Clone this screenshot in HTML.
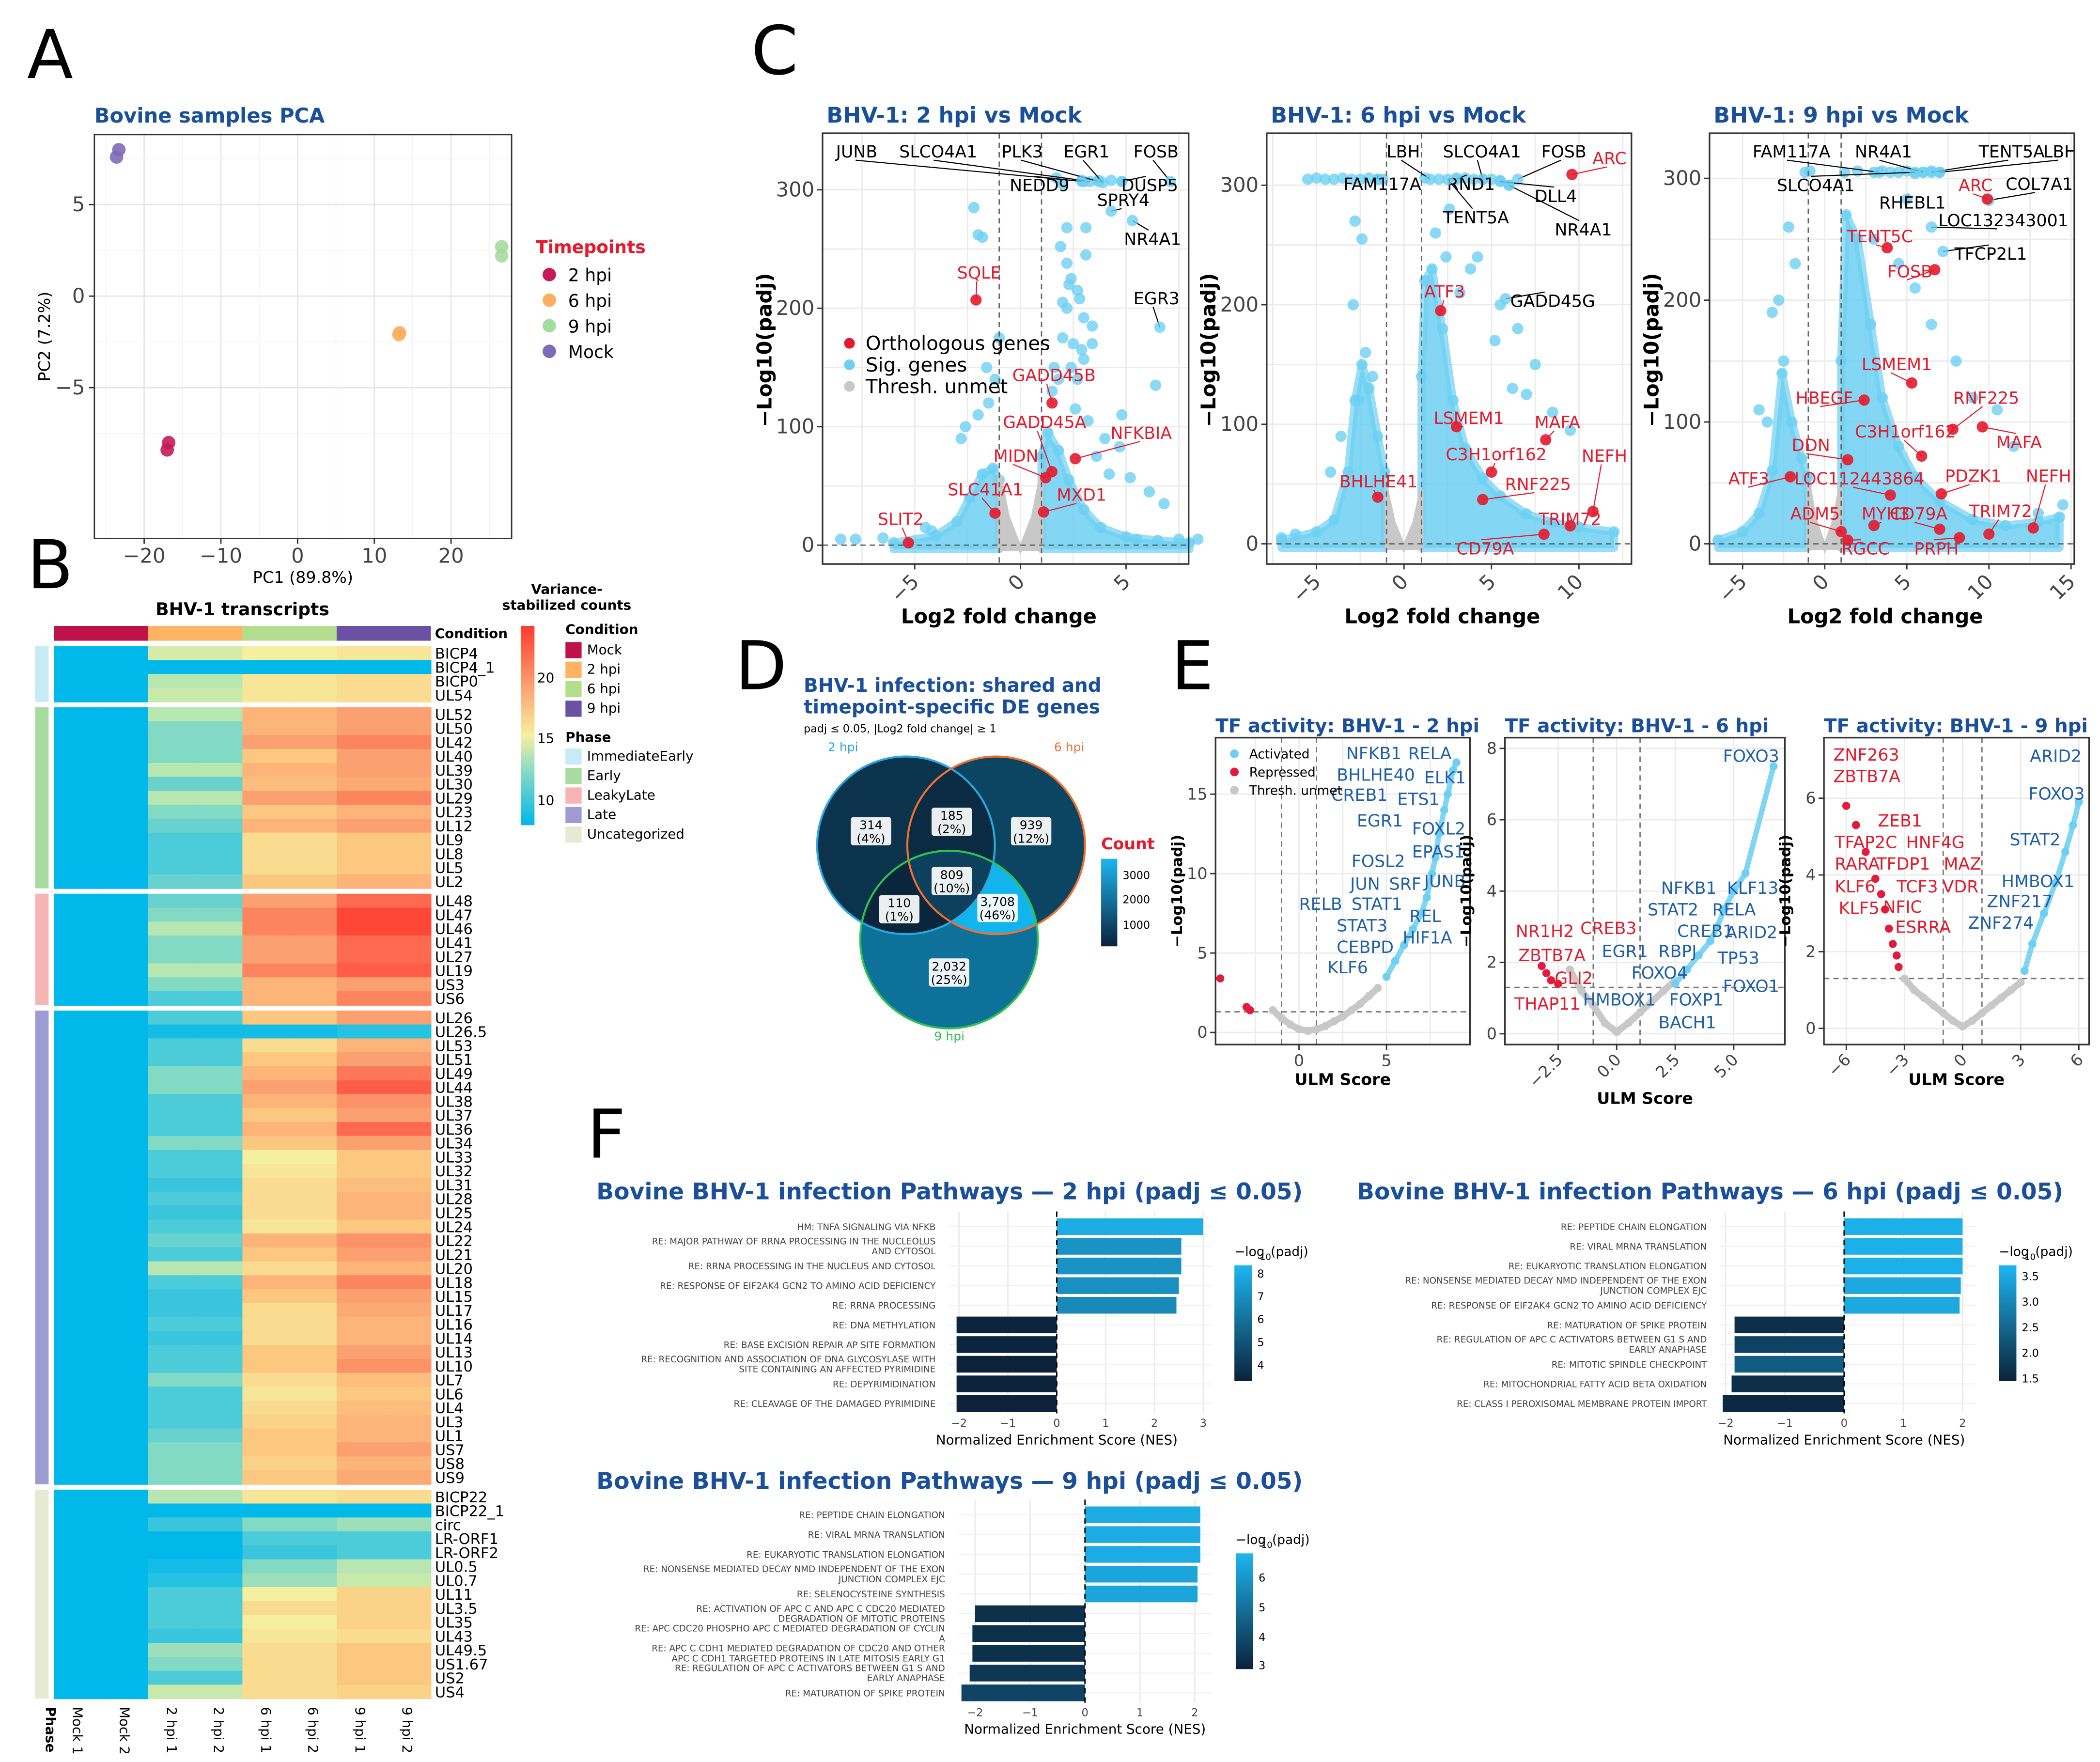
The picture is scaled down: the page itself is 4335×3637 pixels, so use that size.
<!DOCTYPE html>
<html><head><meta charset="utf-8">
<style>
html,body{margin:0;padding:0;background:#fff;}
svg{display:block;font-family:"DejaVu Sans","Liberation Sans",sans-serif;}
</style></head>
<body>
<svg id="fig" xmlns="http://www.w3.org/2000/svg" width="4335" height="3637" viewBox="0 0 1560 1309">
<defs>
<linearGradient id="hmGrad" x1="0" y1="1" x2="0" y2="0">
<stop offset="0" stop-color="#00b8ea"/><stop offset="0.25" stop-color="#7dd7c8"/><stop offset="0.45" stop-color="#f5f0a0"/><stop offset="0.7" stop-color="#fba070"/><stop offset="1" stop-color="#ff3b30"/>
</linearGradient>
<linearGradient id="blueGrad" x1="0" y1="1" x2="0" y2="0">
<stop offset="0" stop-color="#0b223a"/><stop offset="1" stop-color="#1db6f0"/>
</linearGradient>
<clipPath id="cA"><circle cx="673" cy="628" r="66"/></clipPath>
<clipPath id="cB"><circle cx="740" cy="628" r="66"/></clipPath>
<clipPath id="cC"><circle cx="705" cy="698" r="66"/></clipPath>
</defs>
</svg>
<script>
// ---------------- DATA ----------------
const pcaGroups=['2 hpi','2 hpi','6 hpi','6 hpi','9 hpi','9 hpi','Mock','Mock'];
const pcaX=[-17.0,-16.8,13.2,13.3,26.6,26.6,-23.6,-23.3];
const pcaY=[-8.4,-8.0,-2.1,-2.0,2.2,2.7,7.6,8.0];

const hmRows=[
['BICP4',14,15,15.5],['BICP4_1',9,9,9],['BICP0',13,15.5,16],['UL54',13.5,15.5,16],
['UL52',13,18,19],['UL50',12,18,19],['UL42',12,19,20],['UL40',12,17,19],['UL39',13,18,19],['UL30',11.5,17.5,18.5],['UL29',13,19,20],['UL23',12,17,18],['UL12',11.5,18,19],['UL9',11,16,17],['UL8',11,16,17],['UL5',11,16,17],['UL2',11.5,17,18],
['UL48',11.5,19,21],['UL47',12,20,22.5],['UL46',13,20,22.5],['UL41',12,19,21],['UL27',12,19,21],['UL19',13,20,21.5],['US3',12,18,19],['US6',11,18,20],
['UL26',11,17,19],['UL26.5',9.5,9.5,10],['UL53',11,16,18],['UL51',11,17,19],['UL49',12,18,20.5],['UL44',12,19,21.5],['UL38',11,18,19.5],['UL37',11,17,19],['UL36',11,18,21],['UL34',12,17,19],['UL33',11,15,17],['UL32',11,15.5,17],['UL31',10.5,16,17.5],['UL28',11,16,18],['UL25',10.5,16,18],['UL24',11,15.5,17],['UL22',11.5,18,19.5],['UL21',11,17,19],['UL20',13,16,18],['UL18',11,18,20],['UL15',10.5,17,19],['UL17',10.5,16,18.5],['UL16',11,16,18],['UL14',10.5,16,18],['UL13',11,17,19],['UL10',11,17,19.5],['UL7',12,16,17.5],['UL6',11,15.5,17],['UL4',11,16,17.5],['UL3',11,16.5,18],['UL1',11.5,17,18],['US7',12,17,19],['US8',12,16.5,18],['US9',12,17,18.5],
['BICP22',13,15.5,16],['BICP22_1',9,9,9],['circ',10.5,12,12.5],['LR-ORF1',9,11,11],['LR-ORF2',9,10.5,11],['UL0.5',9.5,12,13],['UL0.7',10,12.5,13.5],['UL11',11,15,16.5],['UL3.5',11,16,16.5],['UL35',11,15,16.5],['UL43',10.5,15.5,16],['UL49.5',12.5,16,17],['US1.67',12,16,17],['US2',11,16,17],['US4',13.5,16,16.5]];
const hmMock=8.5;
const hmPhases=['ImmediateEarly','Early','LeakyLate','Late','Uncategorized'];
const hmPhaseCounts=[4,13,8,34,15];

// volcano data
const v1CloudLX=[-6,-4,-3,-2.4,-1.8,-1.3,-1.0];
const v1CloudLY=[2,8,20,40,60,65,55];
const v1CloudRX=[1.0,1.3,1.8,2.3,3,3.8,5,6.5,8];
const v1CloudRY=[75,95,80,55,30,15,7,4,2];
const v1SigX=[-2.2,-2.0,-1.8,2.2,3.1,1.9,2.2,3.1,2.4,2.3,2.7,2.0,2.8,2.2,3.0,3.4,2.5,2.9,3.4,2.0,2.4,2.7,3.0,1.6,1.8,-1.0,-1.6,-1.2,6.4,4.8,4.7,5.2,6.1,6.8,-8.5,-7.8,-6.5,-4.5,-4.2,5.5,7.5,8.4,1.7,2.0,2.9,3.7,4.3,4.8,-2.6,-2.8,3.6,4.2,-2.0,-1.5,2.6,3.2,1.5,4.0];
const v1SigY=[285,262,260,268,268,252,238,245,225,220,215,205,208,200,192,185,170,165,170,175,150,140,157,150,140,175,150,140,135,110,83,57,45,35,5,5,6,15,12,5,5,5,310,305,308,308,308,307,100,90,75,60,110,120,115,105,130,90];
const v2CloudLX=[-7,-5,-4,-3.2,-2.8,-2.4,-2,-1.5,-1.1];
const v2CloudLY=[3,10,20,60,120,150,130,90,60];
const v2CloudRX=[1,1.2,1.6,2.2,2.8,3.5,4.5,5.5,7,8.5,10,12];
const v2CloudRY=[140,220,230,180,120,80,55,40,25,18,14,10];
const v2SigX=[-5.5,-5,-4.5,-4,-3.5,-3,-2.5,-2,-1.5,-1.2,1.2,2,3,3.5,4,4.5,5,5.5,6,4.2,5.5,6.5,7.5,3.8,5.2,6.2,-2.2,-1.8,-2.6,8.5,9.5,7,-7,-6.2,-2.8,-2.4,-2.9,1.8,2.4,2.6,3.2,-4.2,-3.6];
const v2SigY=[305,306,305,305,306,305,305,306,305,305,306,305,306,306,305,305,305,304,300,240,200,180,150,230,170,130,160,140,120,110,95,125,5,8,270,255,200,260,240,280,210,60,90];
const v3CloudLX=[-6.5,-5,-4,-3.2,-2.6,-2,-1.4,-1.05];
const v3CloudLY=[3,10,25,60,140,100,70,55];
const v3CloudRX=[1,1.3,2,2.8,3.5,4.5,5.5,7,9,11,13,14.3];
const v3CloudRY=[150,270,250,180,120,80,55,35,20,15,18,22];
const v3SigX=[-1.2,-0.9,1.2,2,3,3.5,4,4.5,5,5.5,6,6.5,7,3,4.5,5.5,6.5,8,9,10.5,11.5,-2.5,-3.5,-1.8,14.5,13,-2.8,-3.2,-2.2,-4];
const v3SigY=[305,306,305,306,305,306,305,305,306,304,305,306,305,250,230,210,180,150,120,110,80,150,100,230,32,25,200,190,260,110];

// TF activity data
const e1GrayX=[-1.5,-1,-0.5,0,0.5,1,1.5,2,2.5,3,3.5,4,4.5];
const e1GrayY=[1.4,0.9,0.5,0.2,0.1,0.2,0.4,0.7,1.0,1.4,1.8,2.3,2.8];
const e1BlueX=[5,5.5,6,6.5,7,7.3,7.6,7.8,8,8.3,8.5,8.8,9.0];
const e1BlueY=[3.5,4.5,5.5,6.5,7.5,8.5,10,11,12.5,14,15,16.5,17];
const e1RedX=[-4.5,-3.0,-2.8];
const e1RedY=[3.4,1.6,1.4];
const e2GrayX=[-2,-1.5,-1,-0.5,0,0.5,1,1.5,2,2.5];
const e2GrayY=[1.8,1.2,0.8,0.3,0.05,0.3,0.6,0.9,1.2,1.5];
const e2BlueX=[2.5,3,3.5,4,4.3,4.6,5,5.5,6.7];
const e2BlueY=[1.4,1.8,2.2,2.6,3,3.5,4,4.5,7.5];
const e2RedX=[-3.2,-3.0,-2.8,-2.5];
const e2RedY=[1.9,1.7,1.5,1.4];
const e3GrayX=[-3,-2.5,-2,-1.5,-1,-0.5,0,0.5,1,1.5,2,2.5,3];
const e3GrayY=[1.3,1.0,0.8,0.6,0.4,0.2,0.05,0.2,0.4,0.6,0.8,1.0,1.2];
const e3BlueX=[3.2,3.6,4.2,4.8,5.3,5.7,6.0];
const e3BlueY=[1.5,2.2,3.0,3.8,4.6,5.3,5.9];
const e3RedX=[-6,-5.5,-5,-4.5,-4.2,-4,-3.8,-3.6,-3.4,-3.3];
const e3RedY=[5.8,5.3,4.6,3.9,3.5,3.1,2.6,2.2,1.9,1.6];

// Venn
const vennLabels=['314\n(4%)','185\n(2%)','939\n(12%)','809\n(10%)','110\n(1%)','3,708\n(46%)','2,032\n(25%)'];
const vennCounts=[314,185,939,809,110,3708,2032];

// GSEA bars
const f1Terms=['HM: TNFA SIGNALING VIA NFKB','RE: MAJOR PATHWAY OF RRNA PROCESSING IN THE NUCLEOLUS|AND CYTOSOL','RE: RRNA PROCESSING IN THE NUCLEUS AND CYTOSOL','RE: RESPONSE OF EIF2AK4 GCN2 TO AMINO ACID DEFICIENCY','RE: RRNA PROCESSING','RE: DNA METHYLATION','RE: BASE EXCISION REPAIR AP SITE FORMATION','RE: RECOGNITION AND ASSOCIATION OF DNA GLYCOSYLASE WITH|SITE CONTAINING AN AFFECTED PYRIMIDINE','RE: DEPYRIMIDINATION','RE: CLEAVAGE OF THE DAMAGED PYRIMIDINE'];
const f1NES=[3.0,2.55,2.55,2.5,2.45,-2.05,-2.05,-2.05,-2.05,-2.05];
const f1Padj=[8.2,7.3,7.3,7.2,7.0,3.6,3.6,3.5,3.5,3.5];
const f2Terms=['RE: PEPTIDE CHAIN ELONGATION','RE: VIRAL MRNA TRANSLATION','RE: EUKARYOTIC TRANSLATION ELONGATION','RE: NONSENSE MEDIATED DECAY NMD INDEPENDENT OF THE EXON|JUNCTION COMPLEX EJC','RE: RESPONSE OF EIF2AK4 GCN2 TO AMINO ACID DEFICIENCY','RE: MATURATION OF SPIKE PROTEIN','RE: REGULATION OF APC C ACTIVATORS BETWEEN G1 S AND|EARLY ANAPHASE','RE: MITOTIC SPINDLE CHECKPOINT','RE: MITOCHONDRIAL FATTY ACID BETA OXIDATION','RE: CLASS I PEROXISOMAL MEMBRANE PROTEIN IMPORT'];
const f2NES=[2.0,2.0,2.0,1.97,1.95,-1.85,-1.85,-1.85,-1.9,-2.05];
const f2Padj=[3.6,3.6,3.6,3.5,3.5,1.6,1.9,2.3,1.6,1.5];
const f3Terms=['RE: PEPTIDE CHAIN ELONGATION','RE: VIRAL MRNA TRANSLATION','RE: EUKARYOTIC TRANSLATION ELONGATION','RE: NONSENSE MEDIATED DECAY NMD INDEPENDENT OF THE EXON|JUNCTION COMPLEX EJC','RE: SELENOCYSTEINE SYNTHESIS','RE: ACTIVATION OF APC C AND APC C CDC20 MEDIATED|DEGRADATION OF MITOTIC PROTEINS','RE: APC CDC20 PHOSPHO APC C MEDIATED DEGRADATION OF CYCLIN|A','RE: APC C CDH1 MEDIATED DEGRADATION OF CDC20 AND OTHER|APC C CDH1 TARGETED PROTEINS IN LATE MITOSIS EARLY G1','RE: REGULATION OF APC C ACTIVATORS BETWEEN G1 S AND|EARLY ANAPHASE','RE: MATURATION OF SPIKE PROTEIN'];
const f3NES=[2.1,2.1,2.1,2.05,2.05,-2.0,-2.05,-2.05,-2.1,-2.25];
const f3Padj=[6.6,6.6,6.6,6.4,6.4,3.0,3.0,3.0,3.2,3.6];

// ---------------- HELPERS ----------------
const NS='http://www.w3.org/2000/svg';
const svg=document.getElementById('fig');
function mk(tag,attrs,name,parent){
  const el=document.createElementNS(NS,tag);
  for(const k in attrs) el.setAttribute(k,attrs[k]);
  
  
  (parent||svg).appendChild(el);
  return el;
}
function tx(x,y,s,size,name,opt){
  opt=opt||{};
  const a={x:x,y:y,'font-size':size,fill:opt.fill||'#000'};
  if(opt.bold) a['font-weight']='bold';
  if(opt.anchor) a['text-anchor']=opt.anchor;
  if(opt.rot!==undefined) a.transform='rotate('+opt.rot+' '+x+' '+y+')';
  const el=mk('text',a,name);
  el.textContent=s;
  return el;
}
function line(x1,y1,x2,y2,st,w,name,dash){
  const a={x1:x1,y1:y1,x2:x2,y2:y2,stroke:st,'stroke-width':w};
  if(dash) a['stroke-dasharray']=dash;
  return mk('line',a,name);
}
function hex(c){return [parseInt(c.slice(1,3),16),parseInt(c.slice(3,5),16),parseInt(c.slice(5,7),16)];}
function lerpC(a,b,t){const A=hex(a),B=hex(b);return 'rgb('+A.map((v,i)=>Math.round(v+(B[i]-v)*t)).join(',')+')';}
function ramp(stops,v){
  if(v<=stops[0][0]) return stops[0][1];
  for(let i=1;i<stops.length;i++){ if(v<=stops[i][0]){const t=(v-stops[i-1][0])/(stops[i][0]-stops[i-1][0]);return lerpC(stops[i-1][1],stops[i][1],t);} }
  return stops[stops.length-1][1];
}
const TITLE='#1a4f9c', RED='#e41a2c', SIGB='#6dd0f2', TFB='#1f5fa8';

// ---------------- PANEL LETTERS ----------------
[['A',20,58],['B',20,437],['C',558,55],['D',546,512],['E',870,512],['F',436,860]].forEach(p=>{
  tx(p[1],p[2],p[0],50,'panel-letter-'+p[0].toLowerCase());
});

// ---------------- PANEL A: PCA ----------------
(function(){
  const sx=v=>221+v*5.7, sy=v=>220-v*13.6;
  tx(70,91,'Bovine samples PCA',15,'pca-title',{bold:true,fill:TITLE});
  mk('rect',{x:70,y:100,width:310,height:300,fill:'#fff'},'pca-plot-area');
  [-25,-15,-5,5,15,25].forEach(v=>line(sx(v),100,sx(v),400,'#f3f3f3',0.6,'pca-minor-grid'));
  [-20,-10,0,10,20].forEach(v=>line(sx(v),100,sx(v),400,'#e6e6e6',1,'pca-grid-x'));
  [-7.5,-2.5,2.5,7.5].forEach(v=>line(70,sy(v),380,sy(v),'#f3f3f3',0.6,'pca-minor-grid'));
  [-5,0,5].forEach(v=>line(70,sy(v),380,sy(v),'#e6e6e6',1,'pca-grid-y'));
  mk('rect',{x:70,y:100,width:310,height:300,fill:'none',stroke:'#333','stroke-width':1},'pca-border');
  [-20,-10,0,10,20].forEach(v=>{line(sx(v),400,sx(v),404,'#333',1,'pca-x-tick');tx(sx(v),418,(v<0?'\u2212':'')+Math.abs(v),15,'pca-x-tick-label',{anchor:'middle',fill:'#444'});});
  [-5,0,5].forEach(v=>{line(66,sy(v),70,sy(v),'#333',1,'pca-y-tick');tx(63,sy(v)+5,(v<0?'\u2212':'')+Math.abs(v),15,'pca-y-tick-label',{anchor:'end',fill:'#444'});});
  tx(225,433,'PC1 (89.8%)',12,'pca-x-axis-title',{anchor:'middle'});
  tx(37,250,'PC2 (7.2%)',12,'pca-y-axis-title',{anchor:'middle',rot:-90});
  const col={'2 hpi':'#c51b59','6 hpi':'#fdae61','9 hpi':'#a6dba0','Mock':'#7e6bb8'};
  pcaX.forEach((x,i)=>mk('circle',{cx:sx(x),cy:sy(pcaY[i]),r:5,fill:col[pcaGroups[i]],'fill-opacity':0.9},'pca-point'));
  tx(398,188,'Timepoints',13,'pca-legend-title',{bold:true,fill:RED});
  ['2 hpi','6 hpi','9 hpi','Mock'].forEach((g,i)=>{
    mk('circle',{cx:408,cy:204+i*19,r:5,fill:col[g]},'pca-legend-key');
    tx(422,209+i*19,g,13,'pca-legend-label');
  });
})();

// ---------------- PANEL B: HEATMAP ----------------
(function(){
  const hmStops=[[9,'#00b8ea'],[11,'#4ccbd8'],[13,'#b8e6b0'],[15,'#f5f0a0'],[17,'#fcc880'],[19,'#fba070'],[21,'#fd6a50'],[23,'#ff3b30']];
  tx(180,457,'BHV-1 transcripts',13,'heatmap-title',{bold:true,anchor:'middle'});
  const condCol=['#c0124a','#fdb462','#b3de8e','#6a51a3'];
  const x0=40,cw=35,rh=10.35,gap=4;
  condCol.forEach((c,i)=>mk('rect',{x:x0+i*70,y:465,width:70,height:11,fill:c},'condition-bar'));
  tx(323,474,'Condition',10,'condition-bar-label',{bold:true});
  const phaseCol=['#c6ebf5','#a8dba0','#f8b4b4','#9d9bd2','#e6ead2'];
  let y=480,ri=0;
  hmPhaseCounts.forEach((n,pi)=>{
    const ys=y;
    for(let k=0;k<n;k++){
      const r=hmRows[ri];
      const vals=[hmMock,hmMock,r[1],r[1],r[2],r[2],r[3],r[3]];
      vals.forEach((v,ci)=>mk('rect',{x:x0+ci*cw,y:y,width:cw+0.4,height:rh+0.4,fill:ramp(hmStops,v)},'heatmap-cell'));
      tx(323,y+rh-1,r[0],11,'heatmap-row-label');
      y+=rh; ri++;
    }
    mk('rect',{x:26,y:ys,width:10,height:y-ys,fill:phaseCol[pi]},'phase-bar-'+hmPhases[pi].toLowerCase());
    y+=gap;
  });
  tx(34,1268,'Phase',10,'phase-axis-label',{bold:true,rot:90});
  ['Mock 1','Mock 2','2 hpi 1','2 hpi 2','6 hpi 1','6 hpi 2','9 hpi 1','9 hpi 2'].forEach((s,i)=>tx(x0+i*cw+14,1268,s,10,'heatmap-column-label',{rot:90}));
  tx(421,441,'Variance-',10,'colorbar-title',{bold:true,anchor:'middle'});
  tx(421,453,'stabilized counts',10,'colorbar-title',{bold:true,anchor:'middle'});
  mk('rect',{x:387,y:465,width:10,height:148,fill:'url(#hmGrad)'},'heatmap-colorbar');
  [[20,503],[15,548],[10,594]].forEach(t=>tx(399,t[1]+4,String(t[0]),10,'colorbar-tick-label'));
  tx(420,471,'Condition',10,'condition-legend-title',{bold:true});
  ['Mock','2 hpi','6 hpi','9 hpi'].forEach((s,i)=>{mk('rect',{x:420,y:477+i*14.5,width:12,height:12,fill:condCol[i]},'condition-legend-key');tx(436,486+i*14.5,s,10,'condition-legend-label');});
  tx(420,551,'Phase',10,'phase-legend-title',{bold:true});
  hmPhases.forEach((s,i)=>{mk('rect',{x:420,y:556+i*14.5,width:12,height:12,fill:phaseCol[i]},'phase-legend-key');tx(436,565+i*14.5,s,10,'phase-legend-label');});
})();

// ---------------- PANEL C: VOLCANOES ----------------
function volcano(c){
  const sx=v=>c.x0+v*c.ux, sy=v=>c.y0-v*c.uy;
  tx(c.left+3,91,c.title,16,'volcano-title',{bold:true,fill:TITLE});
  c.xgrid.forEach(v=>line(sx(v),c.top,sx(v),c.bottom,'#ebebeb',1,'volcano-grid-x'));
  c.ygrid.forEach(v=>line(c.left,sy(v),c.right,sy(v),'#ebebeb',1,'volcano-grid-y'));
  function cloud(X,Y){
    let pts=[[sx(X[0]),sy(0)+3]];
    X.forEach((x,i)=>pts.push([sx(x),sy(Y[i])]));
    pts.push([sx(X[X.length-1]),sy(0)+3]);
    mk('polygon',{points:pts.map(p=>p.join(',')).join(' '),fill:SIGB,'fill-opacity':0.85,stroke:SIGB,'stroke-opacity':0.7,'stroke-width':6,'stroke-linejoin':'round'},'sig-genes-cloud');
    X.forEach((x,i)=>mk('circle',{cx:sx(x),cy:sy(Y[i]),r:4.2,fill:SIGB,'fill-opacity':0.8},'sig-gene-point'));
  }
  cloud(c.lx,c.ly); cloud(c.rx,c.ry);
  mk('polygon',{points:[[sx(-1),sy(c.gray)],[sx(-0.6),sy(c.gray*0.4)],[sx(0),sy(0)+3],[sx(0.6),sy(c.gray*0.4)],[sx(1),sy(c.gray)],[sx(1),sy(0)+3],[sx(-1),sy(0)+3]].map(p=>p.join(',')).join(' '),fill:'#c8c8c8',stroke:'#c8c8c8','stroke-width':3},'thresh-unmet-cloud');
  c.sx.forEach((x,i)=>mk('circle',{cx:sx(x),cy:sy(c.sy[i]),r:4.2,fill:SIGB,'fill-opacity':0.8},'sig-gene-point'));
  line(sx(-1),c.top,sx(-1),c.bottom,'#666',1,'fc-threshold-line','4,3');
  line(sx(1),c.top,sx(1),c.bottom,'#666',1,'fc-threshold-line','4,3');
  line(c.left,sy(0),c.right,sy(0),'#666',1,'padj-threshold-line','4,3');
  c.labels.forEach(l=>{
    const [name,px,py,lx,ly,red]=l;
    const P=[sx(px),sy(py)];
    const w=name.length*7.3;
    const cx=lx+w/2, cy=(P[1]<ly-6)?ly-11:ly+2;
    line(cx,cy,P[0],P[1],red?RED:'#000',0.8,'label-connector');
    mk('circle',{cx:P[0],cy:P[1],r:4.2,fill:red?RED:SIGB,'fill-opacity':red?0.9:0.8},red?'orthologous-gene-point':'sig-gene-point');
    tx(lx,ly,name,12.5,'gene-label',{fill:red?RED:'#000'});
  });
  mk('rect',{x:c.left,y:c.top,width:c.right-c.left,height:c.bottom-c.top,fill:'none',stroke:'#333','stroke-width':1.2},'volcano-border');
  c.xt.forEach(v=>{line(sx(v),c.bottom,sx(v),c.bottom+4,'#333',1,'x-tick');tx(sx(v)+4,c.bottom+14,(v<0?'\u2212':'')+Math.abs(v),15,'x-tick-label',{anchor:'end',fill:'#444',rot:-45});});
  c.yt.forEach(v=>{line(c.left-4,sy(v),c.left,sy(v),'#333',1,'y-tick');tx(c.left-6,sy(v)+5,String(v),15,'y-tick-label',{anchor:'end',fill:'#444'});});
  tx((c.left+c.right)/2-5,463,'Log2 fold change',15,'x-axis-title',{bold:true,anchor:'middle'});
  tx(c.left-38,260,'\u2212Log10(padj)',15,'y-axis-title',{bold:true,anchor:'middle',rot:-90});
}
volcano({title:'BHV-1: 2 hpi vs Mock',left:611,right:883,top:99,bottom:419,x0:758,ux:15.7,y0:405,uy:0.88,
  xgrid:[-7.5,-5,-2.5,0,2.5,5,7.5],ygrid:[50,100,150,200,250,300],xt:[-5,0,5],yt:[0,100,200,300],
  lx:v1CloudLX,ly:v1CloudLY,rx:v1CloudRX,ry:v1CloudRY,gray:60,sx:v1SigX,sy:v1SigY,
  labels:[['JUNB',3.0,307,621,117,0],['SLCO4A1',3.3,307,668,117,0],['PLK3',3.7,307,744,117,0],['EGR1',3.9,306,790,117,0],['FOSB',7.1,307,842,117,0],['NEDD9',2.9,307,750,142,0],['DUSP5',4.8,307,833,142,0],['SPRY4',4.3,282,815,153,0],['NR4A1',5.3,274,835,182,0],['EGR3',6.6,184,842,226,0],
    ['SQLE',-2.1,207,711,207,1],['GADD45B',1.5,120,752,283,1],['GADD45A',1.49,62,745,318,1],['MIDN',1.2,57,738,343,1],['NFKBIA',2.6,73,825,326,1],['MXD1',1.1,28,785,372,1],['SLC41A1',-1.2,27,704,368,1],['SLIT2',-5.3,2,652,390,1]]});
volcano({title:'BHV-1: 6 hpi vs Mock',left:941,right:1212,top:99,bottom:419,x0:1043,ux:13,y0:404,uy:0.888,
  xgrid:[-7.5,-5,-2.5,0,2.5,5,7.5,10,12.5],ygrid:[50,100,150,200,250,300],xt:[-5,0,5,10],yt:[0,100,200,300],
  lx:v2CloudLX,ly:v2CloudLY,rx:v2CloudRX,ry:v2CloudRY,gray:45,sx:v2SigX,sy:v2SigY,
  labels:[['LBH',1.5,305,1030,117,0],['SLCO4A1',4.5,305,1072,117,0],['FOSB',6.5,305,1145,117,0],['FAM117A',-1.5,305,998,141,0],['RND1',3,305,1075,141,0],['DLL4',5.5,303,1140,150,0],['TENT5A',2.5,305,1072,166,0],['NR4A1',6,300,1155,175,0],['GADD45G',5.8,205,1122,228,0],
    ['ARC',9.6,309,1183,122,1],['ATF3',2.1,195,1058,221,1],['LSMEM1',3,98,1065,315,1],['MAFA',8.1,87,1140,318,1],['C3H1orf162',5,60,1074,342,1],['RNF225',4.5,37,1118,364,1],['NEFH',10.8,27,1175,343,1],['TRIM72',9.5,15,1143,390,1],['CD79A',8,8,1082,412,1],['BHLHE41',-1.5,39,995,362,1]]});
volcano({title:'BHV-1: 9 hpi vs Mock',left:1270,right:1541,top:99,bottom:419,x0:1355.6,ux:12.2,y0:404,uy:0.905,
  xgrid:[-5,-2.5,0,2.5,5,7.5,10,12.5,15],ygrid:[50,100,150,200,250,300],xt:[-5,0,5,10,15],yt:[0,100,200,300],
  lx:v3CloudLX,ly:v3CloudLY,rx:v3CloudRX,ry:v3CloudRY,gray:50,sx:v3SigX,sy:v3SigY,
  labels:[['FAM117A',3.3,305,1302,117,0],['NR4A1',6,305,1378,117,0],['TENT5A',6.5,305,1470,117,0],['LBH',7,305,1518,117,0],['SLCO4A1',5.5,305,1320,142,0],['RHEBL1',5.0,283,1396,155,0],['COL7A1',10,282,1490,141,0],['LOC132343001',6.5,260,1440,168,0],['TFCP2L1',7.2,240,1452,193,0],
    ['ARC',9.9,283,1455,142,1],['TENT5C',3.8,243,1372,180,1],['FOSB',6.7,225,1402,206,1],['LSMEM1',5.3,132,1383,275,1],['HBEGF',2.4,118,1334,300,1],['RNF225',7.8,94,1451,300,1],['MAFA',9.6,96,1483,333,1],['C3H1orf162',5.9,72,1378,325,1],['DDN',1.4,69,1331,335,1],['PDZK1',7.1,41,1445,358,1],['ATF3',-2.1,55,1284,360,1],['LOC112443864',4,40,1333,360,1],['NEFH',12.7,13,1505,358,1],['TRIM72',10,8,1463,384,1],['CD79A',7,12,1404,386,1],['ADM5',1,10,1330,386,1],['MYH3',3,15,1383,386,1],['RGCC',1.4,3,1368,412,1],['PRPH',8.2,5,1422,412,1]]});
[['Orthologous genes',RED],['Sig. genes',SIGB],['Thresh. unmet','#c8c8c8']].forEach((l,i)=>{
  mk('circle',{cx:631,cy:255+i*16,r:4,fill:l[1]},'volcano-legend-key');
  tx(643,260+i*16,l[0],14.5,'volcano-legend-label');
});

// ---------------- PANEL D: VENN ----------------
(function(){
  tx(597,514,'BHV-1 infection: shared and',14,'venn-title',{bold:true,fill:TITLE});
  tx(597,530,'timepoint-specific DE genes',14,'venn-title',{bold:true,fill:TITLE});
  tx(597,544,'padj \u2264 0.05, |Log2 fold change| \u2265 1',8,'venn-subtitle');
  const vc=v=>ramp([[0,'#0a1f33'],[3708,'#12b4ee']],v);
  const A=[673,628],B=[740,628],C=[705,698],R=66;
  mk('circle',{cx:A[0],cy:A[1],r:R,fill:vc(vennCounts[0]*1.6)},'venn-region-2hpi-only');
  mk('circle',{cx:B[0],cy:B[1],r:R,fill:vc(vennCounts[2])},'venn-region-6hpi-only');
  mk('circle',{cx:C[0],cy:C[1],r:R,fill:vc(vennCounts[6])},'venn-region-9hpi-only');
  mk('circle',{cx:B[0],cy:B[1],r:R,fill:vc(vennCounts[1]*1.6),'clip-path':'url(#cA)'},'venn-region-2-6');
  mk('circle',{cx:C[0],cy:C[1],r:R,fill:vc(vennCounts[4]*1.6),'clip-path':'url(#cA)'},'venn-region-2-9');
  mk('circle',{cx:C[0],cy:C[1],r:R,fill:vc(vennCounts[5]),'clip-path':'url(#cB)'},'venn-region-6-9');
  const g=mk('g',{'clip-path':'url(#cA)'},'venn-triple-clip');
  mk('circle',{cx:C[0],cy:C[1],r:R,fill:vc(vennCounts[3]),'clip-path':'url(#cB)'},'venn-region-all',g);
  mk('circle',{cx:A[0],cy:A[1],r:R,fill:'none',stroke:'#2aa7e0','stroke-width':1.5},'venn-circle-2hpi');
  mk('circle',{cx:B[0],cy:B[1],r:R,fill:'none',stroke:'#f07030','stroke-width':1.5},'venn-circle-6hpi');
  mk('circle',{cx:C[0],cy:C[1],r:R,fill:'none',stroke:'#30c050','stroke-width':1.5},'venn-circle-9hpi');
  const pos=[[647,617],[707,610],[766,617],[707,654],[668,675],[741,674],[705,722]];
  vennLabels.forEach((s,i)=>{
    const p=s.split('\n');
    mk('rect',{x:pos[i][0]-15,y:pos[i][1]-10,width:30,height:21,rx:2,fill:'#fff','fill-opacity':0.92},'venn-count-box');
    tx(pos[i][0],pos[i][1]-1,p[0],9,'venn-count-label',{anchor:'middle'});
    tx(pos[i][0],pos[i][1]+9,p[1],9,'venn-percent-label',{anchor:'middle'});
  });
  tx(615,558,'2 hpi',9,'venn-set-label-2hpi',{fill:'#2aa7e0'});
  tx(783,558,'6 hpi',9,'venn-set-label-6hpi',{fill:'#f07030'});
  tx(694,773,'9 hpi',9,'venn-set-label-9hpi',{fill:'#30c050'});
  tx(818,631,'Count',12,'venn-colorbar-title',{bold:true,fill:RED});
  mk('rect',{x:818,y:638,width:12,height:65,fill:'url(#blueGrad)'},'venn-colorbar');
  [['3000',650],['2000',668],['1000',687]].forEach(t=>tx(834,t[1]+3,t[0],8,'venn-colorbar-tick'));
})();

// ---------------- PANEL E: TF ACTIVITY ----------------
function tfplot(c){
  const sx=v=>c.x0+v*c.ux, sy=v=>c.y0-v*c.uy;
  tx(c.left,544,c.title,14,'tf-title',{bold:true,fill:TITLE});
  c.xgrid.forEach(v=>line(sx(v),c.top,sx(v),c.bottom,'#ebebeb',1,'tf-grid-x'));
  c.ygrid.forEach(v=>line(c.left,sy(v),c.right,sy(v),'#ebebeb',1,'tf-grid-y'));
  line(sx(-1),c.top,sx(-1),c.bottom,'#777',1,'tf-threshold-x','4,3');
  line(sx(1),c.top,sx(1),c.bottom,'#777',1,'tf-threshold-x','4,3');
  line(c.left,sy(1.3),c.right,sy(1.3),'#777',1,'tf-threshold-y','4,3');
  c.gx.forEach((x,i)=>mk('circle',{cx:sx(x),cy:sy(c.gy[i]),r:3,fill:'#c8c8c8'},'tf-unmet-point'));
  for(let i=0;i<c.gx.length-1;i++) line(sx(c.gx[i]),sy(c.gy[i]),sx(c.gx[i+1]),sy(c.gy[i+1]),'#c8c8c8',5,'tf-unmet-band');
  for(let i=0;i<c.bx.length-1;i++) line(sx(c.bx[i]),sy(c.by[i]),sx(c.bx[i+1]),sy(c.by[i+1]),'#7fd6f2',4,'tf-activated-band');
  c.bx.forEach((x,i)=>mk('circle',{cx:sx(x),cy:sy(c.by[i]),r:3,fill:'#6dd0f2'},'tf-activated-point'));
  c.rx.forEach((x,i)=>mk('circle',{cx:sx(x),cy:sy(c.ry[i]),r:3,fill:'#e41a3c'},'tf-repressed-point'));
  c.labels.forEach(l=>{
    const [s,x,y,red]=l;
    tx(x,y,s,12.5,'tf-label',{fill:red?RED:TFB});
  });
  mk('rect',{x:c.left,y:c.top,width:c.right-c.left,height:c.bottom-c.top,fill:'none',stroke:'#333','stroke-width':1.2},'tf-border');
  c.xt.forEach(v=>{line(sx(v),c.bottom,sx(v),c.bottom+4,'#333',1,'tf-x-tick');
    if(c.rot) tx(sx(v)+4,c.bottom+12,(v<0?'\u2212':'')+Math.abs(v).toFixed(c.dec),12,'tf-x-tick-label',{anchor:'end',fill:'#444',rot:-45});
    else tx(sx(v),c.bottom+16,String(v),12,'tf-x-tick-label',{anchor:'middle',fill:'#444'});});
  c.yt.forEach(v=>{line(c.left-4,sy(v),c.left,sy(v),'#333',1,'tf-y-tick');tx(c.left-6,sy(v)+4,String(v),12,'tf-y-tick-label',{anchor:'end',fill:'#444'});});
  tx((c.left+c.right)/2,c.xlabY,'ULM Score',12,'tf-x-axis-title',{bold:true,anchor:'middle'});
  tx(c.left-25,662,'\u2212Log10(padj)',11,'tf-y-axis-title',{bold:true,anchor:'middle',rot:-90});
}
tfplot({title:'TF activity: BHV-1 - 2 hpi',left:903,right:1092,top:548,bottom:776,x0:965,ux:13,y0:767,uy:11.8,rot:false,dec:0,xlabY:806,
  xgrid:[-2.5,0,2.5,5,7.5],ygrid:[0,5,10,15],xt:[0,5],yt:[0,5,10,15],gx:e1GrayX,gy:e1GrayY,bx:e1BlueX,by:e1BlueY,rx:e1RedX,ry:e1RedY,
  labels:[['NFKB1',1000,564],['RELA',1046,564],['BHLHE40',993,580],['ELK1',1058,582],['CREB1',989,595],['ETS1',1038,598],['EGR1',1008,614],['FOXL2',1049,620],['EPAS1',1049,637],['FOSL2',1004,644],['JUN',1003,661],['SRF',1032,661],['JUNB',1058,659],['RELB',965,676],['STAT1',1004,676],['REL',1047,685],['STAT3',993,692],['HIF1A',1042,701],['CEBPD',993,708],['KLF6',986,723]]});
tfplot({title:'TF activity: BHV-1 - 6 hpi',left:1118,right:1326,top:548,bottom:776,x0:1201,ux:17.4,y0:768,uy:26.5,rot:true,dec:1,xlabY:820,
  xgrid:[-2.5,0,2.5,5],ygrid:[0,2,4,6,8],xt:[-2.5,0,2.5,5],yt:[0,2,4,6,8],gx:e2GrayX,gy:e2GrayY,bx:e2BlueX,by:e2BlueY,rx:e2RedX,ry:e2RedY,
  labels:[['FOXO3',1280,566],['NFKB1',1234,664],['KLF13',1283,664],['STAT2',1224,680],['RELA',1272,680],['CREB1',1246,696],['ARID2',1282,697],['EGR1',1190,711],['RBPJ',1232,711],['TP53',1276,716],['FOXO4',1212,727],['FOXO1',1280,737],['FOXP1',1240,747],['HMBOX1',1176,747],['BACH1',1232,764],
    ['NR1H2',1126,696,1],['CREB3',1174,694,1],['ZBTB7A',1128,714,1],['GLI2',1155,731,1],['THAP11',1125,750,1]]});
tfplot({title:'TF activity: BHV-1 - 9 hpi',left:1355,right:1552,top:548,bottom:776,x0:1458,ux:14.4,y0:764,uy:28.5,rot:true,dec:0,xlabY:806,
  xgrid:[-6,-3,0,3,6],ygrid:[0,2,4,6],xt:[-6,-3,0,3,6],yt:[0,2,4,6],gx:e3GrayX,gy:e3GrayY,bx:e3BlueX,by:e3BlueY,rx:e3RedX,ry:e3RedY,
  labels:[['ARID2',1508,566],['FOXO3',1507,594],['STAT2',1493,628],['HMBOX1',1487,659],['ZNF217',1476,674],['ZNF274',1462,690],
    ['ZNF263',1362,565,1],['ZBTB7A',1362,581,1],['ZEB1',1395,614,1],['TFAP2C',1363,630,1],['HNF4G',1416,630,1],['RARA',1363,646,1],['TFDP1',1394,646,1],['MAZ',1444,646,1],['KLF6',1363,663,1],['TCF3',1409,663,1],['VDR',1443,663,1],['KLF5',1366,679,1],['NFIC',1399,678,1],['ESRRA',1408,693,1]]});
[['Activated','#6dd0f2'],['Repressed','#e41a3c'],['Thresh. unmet','#c8c8c8']].forEach((l,i)=>{
  mk('circle',{cx:917,cy:560+i*13.5,r:3.2,fill:l[1]},'tf-legend-key');
  tx(928,563.5+i*13.5,l[0],9.5,'tf-legend-label');
});

// ---------------- PANEL F: GSEA BARS ----------------
function bars(c){
  const sx=v=>c.zero+v*c.ux;
  tx(c.tx,c.ty,c.title,17,'gsea-title',{bold:true,fill:TITLE});
  c.grid.forEach(v=>line(sx(v),c.top,sx(v),c.bottom,'#ebebeb',1,'gsea-grid'));
  const col=v=>ramp([[c.lo,'#0b223a'],[c.hi,'#1db6f0']],v);
  const step=(c.bottom-c.top-4)/c.terms.length;
  c.terms.forEach((t,i)=>{
    const cy=c.top+4+step*(i+0.5);
    line(c.left,cy,c.right,cy,'#f0f0f0',0.8,'gsea-row-grid');
    const v=c.nes[i];
    mk('rect',{x:Math.min(sx(0),sx(v)),y:cy-6.2,width:Math.abs(sx(v)-sx(0)),height:12.4,fill:col(c.padj[i])},'gsea-bar');
    const parts=t.split('|');
    if(parts.length==1) tx(c.lx,cy+2.5,parts[0],6.6,'gsea-term-label',{anchor:'end',fill:'#444'});
    else {tx(c.lx,cy-1.5,parts[0],6.6,'gsea-term-label',{anchor:'end',fill:'#444'});tx(c.lx,cy+6,parts[1],6.6,'gsea-term-label',{anchor:'end',fill:'#444'});}
  });
  line(sx(0),c.top,sx(0),c.bottom,'#000',1,'gsea-zero-line','4,3');
  c.xt.forEach(v=>tx(sx(v),c.bottom+10,(v<0?'\u2212':'')+Math.abs(v),8,'gsea-x-tick-label',{anchor:'middle',fill:'#444'}));
  tx(sx(0),c.bottom+23,'Normalized Enrichment Score (NES)',10,'gsea-x-axis-title',{anchor:'middle'});
  tx(c.cbx,c.top+33,'\u2212log',9.5,'gsea-colorbar-title');
  tx(c.cbx+19,c.top+36,'10',6.5,'gsea-colorbar-title-sub');
  tx(c.cbx+27,c.top+33,'(padj)',9.5,'gsea-colorbar-title');
  mk('rect',{x:c.cbx,y:c.top+40,width:13,height:86,fill:'url(#blueGrad)'},'gsea-colorbar');
  c.cbt.forEach(t=>tx(c.cbx+17,t[1]+3,t[0],8,'gsea-colorbar-tick'));
}
bars({title:'Bovine BHV-1 infection Pathways \u2014 2 hpi (padj \u2264 0.05)',tx:443,ty:891,left:705,right:900,top:900,bottom:1050,zero:785,ux:36.3,lx:695,
  terms:f1Terms,nes:f1NES,padj:f1Padj,lo:3.5,hi:8.5,grid:[-2,-1,0,1,2,3],xt:[-2,-1,0,1,2,3],cbx:917,cbt:[['8',946],['7',963],['6',980],['5',997],['4',1014]]});
bars({title:'Bovine BHV-1 infection Pathways \u2014 6 hpi (padj \u2264 0.05)',tx:1008,ty:891,left:1278,right:1468,top:900,bottom:1050,zero:1370,ux:44,lx:1268,
  terms:f2Terms,nes:f2NES,padj:f2Padj,lo:1.4,hi:3.7,grid:[-2,-1,0,1,2],xt:[-2,-1,0,1,2],cbx:1485,cbt:[['3.5',948],['3.0',967],['2.5',986],['2.0',1005],['1.5',1024]]});
bars({title:'Bovine BHV-1 infection Pathways \u2014 9 hpi (padj \u2264 0.05)',tx:443,ty:1106,left:712,right:900,top:1114,bottom:1265,zero:806,ux:40.8,lx:702,
  terms:f3Terms,nes:f3NES,padj:f3Padj,lo:2.6,hi:6.9,grid:[-2,-1,0,1,2],xt:[-2,-1,0,1,2],cbx:918,cbt:[['6',1172],['5',1194],['4',1216],['3',1237]]});
</script>
</body></html>
